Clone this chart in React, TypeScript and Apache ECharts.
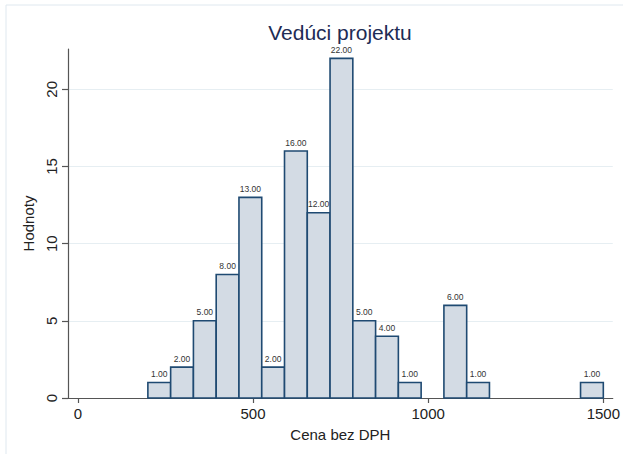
import React, { useEffect, useRef } from "react";
import * as echarts from "echarts";

const title = "Vedúci projektu";
const xName = "Cena bez DPH";
const yName = "Hodnoty";
const binEdges = [200, 265, 330, 395, 460, 525, 590, 655, 720, 785, 850, 915, 980, 1045, 1110, 1175, 1240, 1305, 1370, 1435, 1500];
const counts = [1, 2, 5, 8, 13, 2, 16, 12, 22, 5, 4, 1, 0, 6, 1, 0, 0, 0, 0, 1];
const xTicks = [0, 500, 1000, 1500];
const yTicks = [0, 5, 10, 15, 20];

const FONT = "'Liberation Sans', Arial, Helvetica, sans-serif";

export default function App() {
  const ref = useRef<HTMLDivElement>(null);
  useEffect(() => {
    if (!ref.current) return;
    const chart = echarts.init(ref.current, undefined, { renderer: "svg" });
    const data = counts.map((c, i) => [binEdges[i], binEdges[i + 1], c]);
    chart.setOption({
      animation: false,
      backgroundColor: "#ffffff",
      textStyle: { fontFamily: FONT },
      title: {
        text: title,
        left: 335,
        top: 17,
        textAlign: "center",
        textStyle: { fontFamily: FONT, fontSize: 21, fontWeight: "normal", color: "#1e2c55" },
      },
      graphic: [
        {
          type: "rect",
          shape: { x: 6, y: 5, width: 700, height: 600 },
          style: { fill: "none", stroke: "#dfe8ef", lineWidth: 1 },
          silent: true,
          z: -1,
        },
      ],
      grid: { left: 68, right: 10, top: 49, bottom: 56, containLabel: false },
      xAxis: {
        type: "value",
        min: -28,
        max: 1527,
        name: xName,
        nameLocation: "middle",
        nameGap: 29,
        nameTextStyle: { fontFamily: FONT, fontSize: 15, color: "#222" },
        axisLine: { show: true, onZero: false, lineStyle: { color: "#555", width: 1.2 } },
        axisTick: { show: true, length: 5, customValues: xTicks, lineStyle: { color: "#555", width: 1.2 } },
        axisLabel: {
          customValues: xTicks,
          formatter: (v: number) => String(v),
          fontFamily: FONT,
          fontSize: 15,
          color: "#222",
          margin: 8,
        },
        splitLine: { show: false },
      },
      yAxis: {
        type: "value",
        min: 0,
        max: 22.61,
        name: yName,
        nameLocation: "middle",
        nameGap: 25,
        nameRotate: 90,
        nameTextStyle: { fontFamily: FONT, fontSize: 15, color: "#222" },
        axisLine: { show: true, onZero: false, lineStyle: { color: "#555", width: 1.2 } },
        axisTick: { show: true, length: 6, customValues: yTicks, lineStyle: { color: "#555", width: 1.2 } },
        axisLabel: {
          customValues: yTicks,
          formatter: (v: number) => String(v),
          rotate: 90,
          fontFamily: FONT,
          fontSize: 15,
          color: "#222",
          margin: 9,
        },
        splitLine: { show: false },
      },
      series: [
        {
          type: "custom",
          data,
          encode: { x: [0, 1], y: 2 },
          markLine: {
            silent: true,
            symbol: "none",
            label: { show: false },
            lineStyle: { color: "#e6eef2", width: 1, type: "solid" },
            data: yTicks.filter((v) => v > 0).map((v) => ({ yAxis: v })),
            z: 0,
          },
          renderItem: (params: any, api: any) => {
            const x0 = api.value(0);
            const x1 = api.value(1);
            const v = api.value(2);
            if (!v) return null;
            const p0 = api.coord([x0, v]);
            const p1 = api.coord([x1, 0]);
            return {
              type: "group",
              children: [
                {
                  type: "rect",
                  shape: { x: p0[0], y: p0[1], width: p1[0] - p0[0], height: p1[1] - p0[1] },
                  style: { fill: "#d3dbe4", stroke: "#1f4a72", lineWidth: 1.6 },
                },
                {
                  type: "text",
                  x: (p0[0] + p1[0]) / 2,
                  y: p0[1] - 4,
                  style: {
                    text: Number(v).toFixed(2),
                    align: "center",
                    verticalAlign: "bottom",
                    fontSize: 8.5,
                    fontFamily: FONT,
                    fill: "#333",
                  },
                },
              ],
            };
          },
          z: 2,
        },
      ],
    });
    return () => chart.dispose();
  }, []);
  return (
    <div
      ref={ref}
      style={{ position: "absolute", left: 0, top: 0, width: 623, height: 454 }}
    />
  );
}
